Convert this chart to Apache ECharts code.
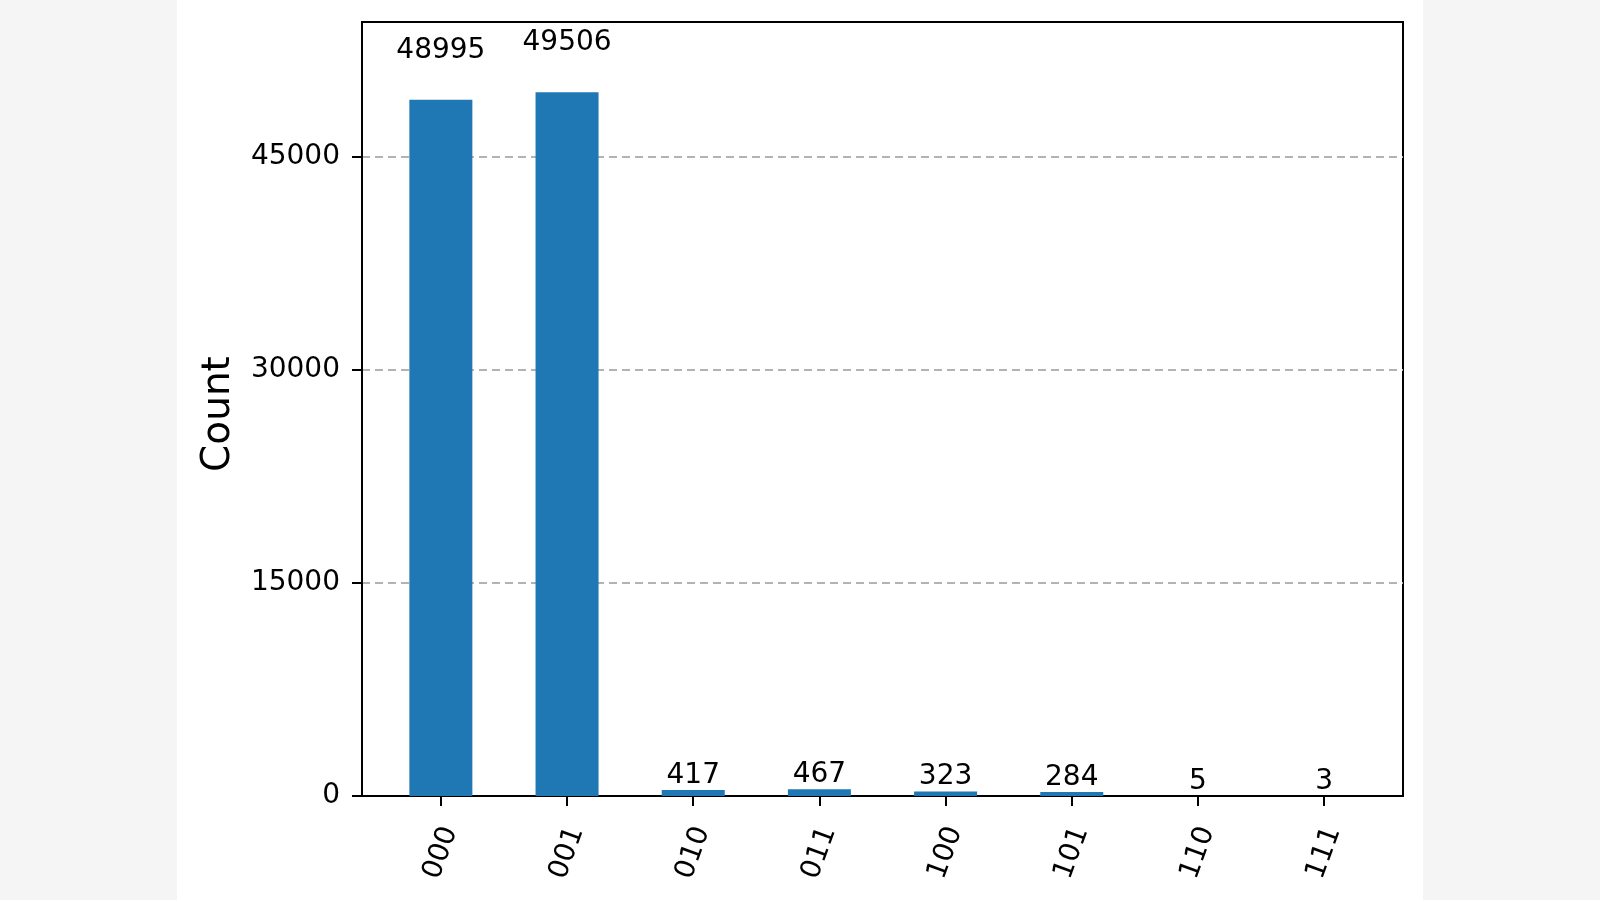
<!DOCTYPE html>
<html>
<head>
<meta charset="utf-8">
<script src="https://cdn.jsdelivr.net/npm/echarts@6/dist/echarts.min.js"></script>
<style>
  html, body { margin: 0; padding: 0; width: 1600px; height: 900px; background: #f5f5f5; overflow: hidden; }
  #panel { position: absolute; left: 177px; top: 0; width: 1246px; height: 900px; background: #ffffff; }
  #chart { position: absolute; left: 0; top: 0; width: 1600px; height: 900px; }
</style>
</head>
<body>
<div id="panel"></div>
<div id="chart"></div>
<script>
const categories = ['000', '001', '010', '011', '100', '101', '110', '111'];
const counts = [48995, 49506, 417, 467, 323, 284, 5, 3];
const yTicks = [0, 15000, 30000, 45000];

const FONT = 'DejaVu Sans';
const idx = categories.map((c, i) => i);
const yMax = Math.max(...counts) * 1.1;

const chart = echarts.init(document.getElementById('chart'), null, { renderer: 'canvas' });
chart.setOption({
  backgroundColor: 'transparent',
  animation: false,
  grid: {
    left: 362, top: 22, right: 197, bottom: 104,
    show: true, borderColor: '#000', borderWidth: 2, backgroundColor: 'transparent'
  },
  xAxis: {
    type: 'value',
    min: -0.625, max: categories.length - 0.375,
    axisLine: { show: true, onZero: false, lineStyle: { color: '#000', width: 2 } },
    axisTick: { show: true, customValues: idx, length: 10, lineStyle: { color: '#000', width: 2 } },
    axisLabel: {
      customValues: idx,
      formatter: v => categories[Math.round(v)] ?? '',
      rotate: 70, align: 'center', verticalAlign: 'middle', margin: 57,
      fontFamily: FONT, fontSize: 28, color: '#000'
    },
    splitLine: { show: false }
  },
  yAxis: {
    type: 'value',
    min: 0, max: yMax, interval: 15000,
    name: 'Count', nameLocation: 'middle', nameRotate: 90, nameGap: 124,
    nameTextStyle: { fontFamily: FONT, fontSize: 39, color: '#000', padding: [0, 10, 0, 0] },
    axisLine: { show: true, onZero: false, lineStyle: { color: '#000', width: 2 } },
    axisTick: { show: true, customValues: yTicks, length: 10, lineStyle: { color: '#000', width: 2 } },
    axisLabel: {
      customValues: yTicks, margin: 22,
      formatter: v => String(v),
      fontFamily: FONT, fontSize: 28, color: '#000'
    },
    splitLine: { show: true, lineStyle: { color: '#b3b3b3', width: 2, type: [8, 5] } }
  },
  series: [
    {
      type: 'bar',
      data: counts.map((v, i) => [i, v]),
      barWidth: 63,
      itemStyle: { color: '#1f77b4' },
      z: 3
    },
    {
      type: 'scatter',
      data: counts.map((v, i) => [i, v * 1.05, v]),
      symbolSize: 0,
      silent: true,
      itemStyle: { opacity: 1 },
      label: {
        show: true, position: 'top', distance: 0,
        formatter: p => String(p.value[2]),
        fontFamily: FONT, fontSize: 28, color: '#000'
      },
      z: 4
    }
  ]
});
</script>
</body>
</html>
